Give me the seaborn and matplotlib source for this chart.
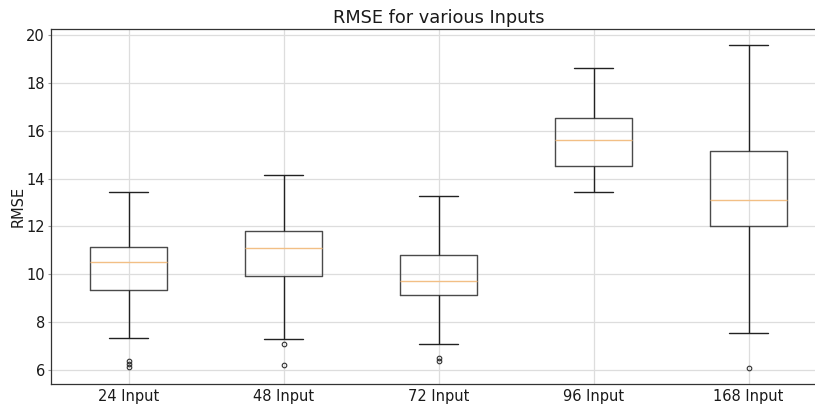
import numpy as np
import pandas as pd
import matplotlib
matplotlib.use("Agg")
import matplotlib.pyplot as plt
import seaborn as sns

# Values
labels = ["24 Input", "48 Input", "72 Input", "96 Input", "168 Input"]
whisker_low = [7.36, 7.32, 7.11, 13.42, 7.57]
q1 = [9.37, 9.95, 9.16, 14.51, 12.00]
median = [10.52, 11.10, 9.71, 15.63, 13.10]
q3 = [11.15, 11.82, 10.82, 16.53, 15.15]
whisker_high = [13.44, 14.13, 13.28, 18.62, 19.59]
outliers = [[6.40, 6.27, 6.14], [7.08, 6.21], [6.49, 6.38], [], [6.10]]

# Build a sample per group whose box statistics equal the read summary
rows = []
for lab, lo, a, m, b, hi, outs in zip(labels, whisker_low, q1, median, q3,
                                       whisker_high, outliers):
    k = len(outs)
    r = k + 2
    sample = list(outs) + [lo] + [a] * r + [m] + [b] * r + [hi] * (1 + k)
    rows += [(lab, v) for v in sample]
df = pd.DataFrame(rows, columns=["Input", "RMSE"])

sns.set_style("white")
plt.rcParams["font.family"] = ["DejaVu Sans"]

fig = plt.figure(figsize=(8.15, 4.04), dpi=100)
ax = fig.add_axes([51 / 815, 20 / 404, 775 / 815, 355.5 / 404])

sns.boxplot(
    data=df, x="Input", y="RMSE", order=labels, ax=ax,
    width=0.5, fill=False,
    boxprops=dict(color="#4a4a4a", linewidth=1.0),
    medianprops=dict(color="#f2bf85", linewidth=1.0),
    whiskerprops=dict(color="#222222", linewidth=1.0),
    capprops=dict(color="#222222", linewidth=1.0),
    flierprops=dict(marker="o", markerfacecolor="none",
                    markeredgecolor="#333333", markersize=3.3,
                    markeredgewidth=0.8),
)

ax.set_xlim(-0.5, 4.5)
ax.set_yticks([6, 8, 10, 12, 14, 16, 18, 20])
ax.grid(True, axis="both", color="#dddddd", linewidth=0.9)
ax.xaxis.grid(True)
ax.set_axisbelow(True)
for s in ax.spines.values():
    s.set_color("#333333")
    s.set_linewidth(0.9)
ax.tick_params(axis="both", labelsize=10.5, width=0.8,
               color="#999999", labelcolor="#1a1a1a", direction="out")
ax.tick_params(axis="x", length=0, pad=3.6, bottom=True)
ax.tick_params(axis="y", length=2.5, pad=1.8, left=True)
ax.set_xlabel("")
ax.set_ylabel("RMSE", fontsize=10.5, labelpad=0.5, color="#1a1a1a")
ax.set_title("RMSE for various Inputs", fontsize=12.8, pad=4, color="#1a1a1a")

fig.savefig("out.png", dpi=100)
